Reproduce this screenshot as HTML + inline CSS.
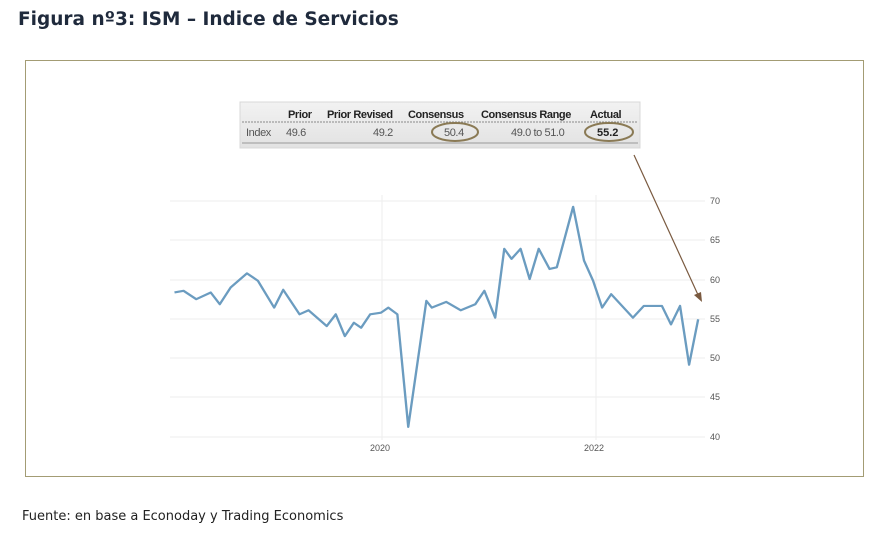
<!DOCTYPE html>
<html><head><meta charset="utf-8"><style>
body{margin:0;width:877px;height:547px;background:#fff;position:relative;overflow:hidden;font-family:"Liberation Sans",sans-serif}
.t{position:absolute;left:18px;top:9px;font-size:18.5px;font-weight:bold;color:#1f2a3c;font-family:"DejaVu Sans","Liberation Sans",sans-serif;letter-spacing:0px}
.box{position:absolute;left:25px;top:60px;width:839px;height:417px;border:1.5px solid #a39c74;box-sizing:border-box}
.f{position:absolute;left:22px;top:509px;font-size:13px;color:#222;font-family:"DejaVu Sans","Liberation Sans",sans-serif;letter-spacing:0px}
</style></head><body>
<div class="t">Figura nº3: ISM – Indice de Servicios</div>
<div class="box"></div>
<svg width="877" height="547" style="position:absolute;left:0;top:0">
<defs><linearGradient id="g" x1="0" y1="0" x2="0" y2="1"><stop offset="0" stop-color="#f2f2f2"/><stop offset="1" stop-color="#e2e2e2"/></linearGradient></defs>
<rect x="240" y="102" width="400" height="46" fill="url(#g)" stroke="#d8d8d8"/>
<line x1="242" y1="122" x2="638" y2="122" stroke="#888" stroke-dasharray="2,1"/>
<line x1="242" y1="143" x2="638" y2="143" stroke="#999"/>
<g font-size="11" font-weight="bold" fill="#222" letter-spacing="-0.4">
<text x="288" y="118">Prior</text><text x="327" y="118">Prior Revised</text><text x="408" y="118">Consensus</text><text x="481" y="118">Consensus Range</text><text x="590" y="118">Actual</text></g>
<g font-size="11" fill="#555" letter-spacing="-0.4">
<text x="246" y="136">Index</text><text x="286" y="136">49.6</text><text x="373" y="136">49.2</text><text x="444" y="136">50.4</text><text x="511" y="136">49.0  to 51.0</text></g>
<text x="597" y="136" font-size="11" font-weight="bold" fill="#222">55.2</text>
<ellipse cx="455" cy="132" rx="23" ry="9" fill="none" stroke="#8a7a55" stroke-width="2"/>
<ellipse cx="609" cy="132" rx="24" ry="9" fill="none" stroke="#8a7a55" stroke-width="2"/>
<g stroke="#eeeeee" stroke-width="1">
<line x1="170" y1="201" x2="705" y2="201"/><line x1="170" y1="240" x2="705" y2="240"/><line x1="170" y1="280" x2="705" y2="280"/><line x1="170" y1="319" x2="705" y2="319"/><line x1="170" y1="358" x2="705" y2="358"/><line x1="170" y1="397" x2="705" y2="397"/><line x1="170" y1="437" x2="705" y2="437"/>
<line x1="382" y1="195" x2="382" y2="440"/><line x1="596" y1="195" x2="596" y2="440"/></g>
<g font-size="9" fill="#555">
<text x="710" y="204">70</text><text x="710" y="243">65</text><text x="710" y="283">60</text><text x="710" y="322">55</text><text x="710" y="361">50</text><text x="710" y="400">45</text><text x="710" y="440">40</text>
<text x="370" y="451">2020</text><text x="584" y="451">2022</text></g>
<g transform="translate(160,190) scale(0.3624,0.336)">
<polyline fill="none" stroke="#6b9cc0" stroke-width="6.5" stroke-linejoin="round" points="40,305 65,300 100,325 140,305 165,340 195,290 240,248 270,270 315,350 340,297 385,370 410,358 460,405 485,370 510,435 535,395 555,410 580,370 610,365 630,350 655,370 685,705 735,330 750,350 790,333 830,358 870,340 895,300 925,380 950,175 970,205 995,175 1020,265 1045,175 1075,235 1095,230 1140,50 1170,210 1195,270 1220,350 1245,310 1305,380 1335,345 1385,345 1410,400 1435,345 1460,520 1485,385"/>
</g>
<line x1="634" y1="155" x2="699" y2="297" stroke="#7a5a40" stroke-width="1.2"/>
<polygon points="702,302 694,295 701,292" fill="#7a5a40"/>
</svg>
<div class="f">Fuente: en base a Econoday y Trading Economics</div>
</body></html>
